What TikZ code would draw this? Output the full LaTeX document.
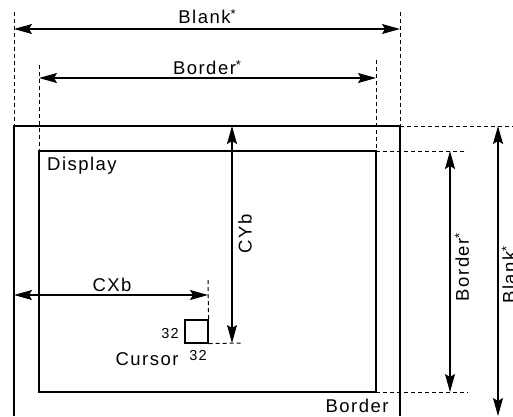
\documentclass[tikz,border=0pt]{standalone}
\usepackage{fontspec}
\setmainfont{Liberation Sans}[LetterSpace=8]
\usetikzlibrary{arrows.meta}
\newcommand{\dimstar}{\raisebox{0.5ex}{\fontsize{13}{13}\selectfont *}}
\begin{document}
\begin{tikzpicture}[x=1pt,y=-1pt,
  dim/.style={{Stealth[length=18pt,width=10pt,inset=3pt]}-{Stealth[length=18pt,width=10pt,inset=3pt]}, line width=1.1pt},
  ext/.style={dash pattern=on 4pt off 3pt, line width=1pt},
  frame/.style={line width=1.5pt},
  lbl/.style={font=\fontsize{18.5}{21}\selectfont, inner sep=0pt},
  small/.style={font=\fontsize{14.5}{16}\selectfont, inner sep=0pt}]
\useasboundingbox (0,0) rectangle (513,416);
% frame corners
\coordinate (oTL) at (14,126); \coordinate (oTR) at (400,126);
\coordinate (oBL) at (14,416); \coordinate (oBR) at (400,416);
\coordinate (iTL) at (39,151); \coordinate (iTR) at (376,151);
\coordinate (iBL) at (39,392); \coordinate (iBR) at (376,392);
\draw[frame] (oBL) -- (oTL) -- (oTR) -- (oBR);
\draw[frame] (iTL) -- (iTR) -- (iBR) -- (iBL) -- cycle;
% extension lines
\coordinate (bx1) at (14,12);  \coordinate (bx2) at (400,12);
\coordinate (dx1) at (39,65);  \coordinate (dx2) at (376,60);
\coordinate (oTx) at (513,126); \coordinate (iTx) at (467,151); \coordinate (iBx) at (468,392);
\draw[ext] (bx1) -- (oTL);
\draw[ext] (bx2) -- (oTR);
\draw[ext] (dx1) -- (iTL);
\draw[ext] (dx2) -- (iTR);
\draw[ext] (oTR) -- (oTx);
\draw[ext] (iTR) -- (iTx);
\draw[ext] (iBR) -- (iBx);
% dimension arrows
\coordinate (hb1) at (14,29);  \coordinate (hb2) at (400,29);
\coordinate (hd1) at (39,78);  \coordinate (hd2) at (376,78);
\coordinate (vd1) at (450,151); \coordinate (vd2) at (450,392);
\coordinate (vb1) at (498,126); \coordinate (vb2) at (498,416);
\coordinate (cy1) at (232,126); \coordinate (cy2) at (232,343);
\coordinate (cx1) at (14,295);  \coordinate (cx2) at (208,295);
\draw[dim] (hb1) -- (hb2);
\draw[dim] (hd1) -- (hd2);
\draw[dim] (vd1) -- (vd2);
\draw[dim] (vb1) -- (vb2);
\draw[dim] (cy1) -- (cy2);
\draw[dim] (cx1) -- (cx2);
% cursor
\node[draw, line width=1.1pt, minimum size=23pt, inner sep=0pt] (cur) at (196.5,331.5) {};
\coordinate (cxt) at (208,280); \coordinate (cyt) at (242,343);
\draw[ext] (cxt) -- (cur.north east);
\draw[ext] (cur.south east) -- (cyt);
% labels
\node[lbl, anchor=base] (tBlank) at (207,23) {Blank\dimstar};
\node[lbl, anchor=base] (tBorder) at (207,74) {Border\dimstar};
\node[lbl, anchor=base west] (tDisplay) at (47,170) {Display};
\node[lbl, anchor=base] (tCXb) at (112,291) {CXb};
\node[lbl, rotate=90] (tCYb) at (245,234) {CYb};
\node[lbl, rotate=90] (tBorderV) at (462,267) {Border\dimstar};
\node[lbl, rotate=90] (tBlankV) at (509,275) {Blank\dimstar};
\node[lbl, anchor=base] (tBorderB) at (357,412) {Border};
\node[lbl, anchor=base] (tCursor) at (147,365) {Cursor};
\node[small] (t32a) at (170,333) {32};
\node[small] (t32b) at (198,355) {32};
\end{tikzpicture}
\end{document}
